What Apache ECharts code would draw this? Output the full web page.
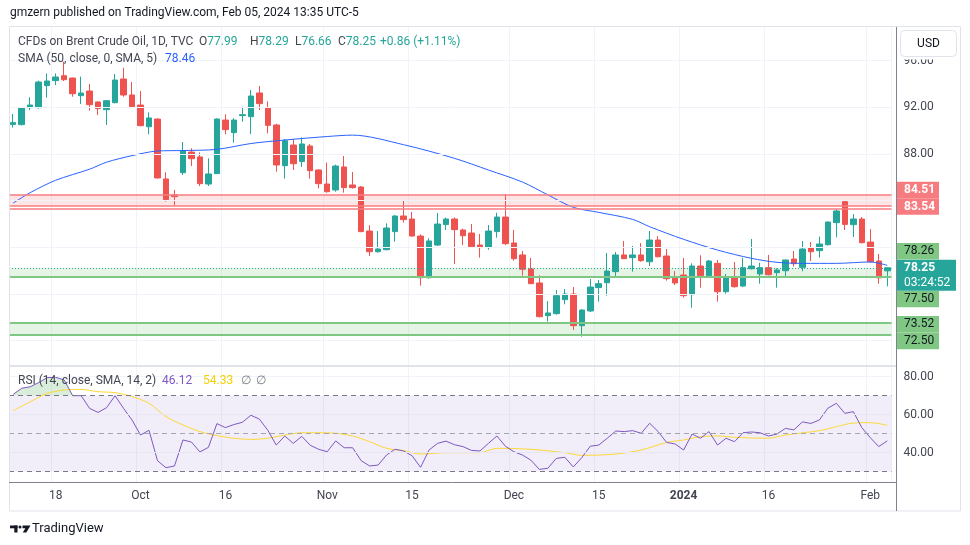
<!DOCTYPE html>
<html><head><meta charset="utf-8">
<script src="https://cdn.jsdelivr.net/npm/echarts@6/dist/echarts.min.js"></script>
<style>html,body{margin:0;padding:0;background:#fff;}#c{width:970px;height:545px;}</style>
</head><body><div id="c"></div>
<script>
// ---------------- DATA ----------------
const dates = ['2023-09-11','2023-09-12','2023-09-13','2023-09-14','2023-09-15','2023-09-18','2023-09-19','2023-09-20','2023-09-21','2023-09-22','2023-09-25','2023-09-26','2023-09-27','2023-09-28','2023-09-29','2023-10-02','2023-10-03','2023-10-04','2023-10-05','2023-10-06','2023-10-09','2023-10-10','2023-10-11','2023-10-12','2023-10-13','2023-10-16','2023-10-17','2023-10-18','2023-10-19','2023-10-20','2023-10-23','2023-10-24','2023-10-25','2023-10-26','2023-10-27','2023-10-30','2023-10-31','2023-11-01','2023-11-02','2023-11-03','2023-11-06','2023-11-07','2023-11-08','2023-11-09','2023-11-10','2023-11-13','2023-11-14','2023-11-15','2023-11-16','2023-11-17','2023-11-20','2023-11-21','2023-11-22','2023-11-23','2023-11-24','2023-11-27','2023-11-28','2023-11-29','2023-11-30','2023-12-01','2023-12-04','2023-12-05','2023-12-06','2023-12-07','2023-12-08','2023-12-11','2023-12-12','2023-12-13','2023-12-14','2023-12-15','2023-12-18','2023-12-19','2023-12-20','2023-12-21','2023-12-22','2023-12-26','2023-12-27','2023-12-28','2023-12-29','2024-01-02','2024-01-03','2024-01-04','2024-01-05','2024-01-08','2024-01-09','2024-01-10','2024-01-11','2024-01-12','2024-01-15','2024-01-16','2024-01-17','2024-01-18','2024-01-19','2024-01-22','2024-01-23','2024-01-24','2024-01-25','2024-01-26','2024-01-29','2024-01-30','2024-01-31','2024-02-01','2024-02-02','2024-02-05'];

const tickLabels = {'2023-09-18':'18','2023-10-02':'Oct','2023-10-16':'16','2023-11-01':'Nov','2023-11-15':'15','2023-12-01':'Dec','2023-12-15':'15','2024-01-02':'2024','2024-01-16':'16','2024-02-01':'Feb'};

const opens = [90.54,90.52,91.97,91.97,93.86,94.29,94.71,94.51,93.00,93.40,92.46,91.80,92.40,94.43,93.06,92.20,90.34,91.0,85.86,84.49,86.40,88.17,87.75,85.43,86.32,90.91,89.83,91.29,91.20,93.23,91.94,90.49,87.0,88.77,87.35,88.69,86.63,85.43,84.92,86.89,85.35,85.17,81.40,79.63,79.80,81.35,82.69,82.43,80.97,77.40,80.20,81.95,82.43,81.49,81.23,80.20,79.98,81.35,82.60,80.38,79.35,78.15,76.95,74.15,74.32,75.52,76.0,73.29,74.55,76.55,76.97,77.92,79.35,79.12,79.35,78.77,80.63,79.26,77.38,77.63,75.95,78.40,77.57,78.63,76.20,77.46,76.69,78.17,77.72,78.26,77.83,78.0,79.0,78.29,79.95,79.72,80.23,82.12,83.92,81.95,82.43,80.46,78.83,77.99];
const closes = [90.69,91.94,92.20,94.17,94.26,94.60,94.37,93.17,93.23,92.23,91.89,92.57,94.34,93.06,92.06,90.43,91.09,85.95,84.09,84.35,88.26,87.60,85.46,86.29,91.0,90.09,90.91,91.37,92.97,92.32,90.46,87.06,89.14,87.17,88.86,86.57,85.46,84.77,86.97,85.12,85.12,81.35,79.63,79.86,81.66,82.69,82.38,80.97,77.40,80.55,82.0,82.43,81.52,81.0,80.06,79.98,81.40,82.60,80.32,79.03,78.12,76.89,74.06,74.38,75.86,76.0,73.29,74.63,76.60,76.89,77.97,79.35,79.03,79.35,78.86,80.63,79.20,77.32,76.95,75.86,78.40,77.57,78.83,76.20,77.49,76.63,78.26,78.40,78.26,77.66,78.06,78.92,78.60,79.86,79.63,80.29,82.17,83.12,81.97,82.43,80.40,78.77,77.39,78.25];
const lows = [90.26,90.45,91.77,91.9,92.83,93.91,94.26,92.91,92.29,91.72,91.34,90.49,92.35,92.91,92.0,90.38,89.69,85.9,83.92,83.58,86.20,86.97,85.26,85.26,86.3,89.69,88.97,90.77,89.72,91.77,89.77,86.49,85.89,86.63,86.89,85.89,85.06,84.69,84.77,84.69,85.03,81.3,79.26,79.55,79.75,80.49,82.12,80.92,76.72,77.32,80.12,81.49,78.58,80.20,80.0,79.12,79.80,80.83,80.20,78.86,77.58,76.85,74.0,73.64,74.23,75.12,72.92,72.35,74.46,75.35,75.86,77.49,79.0,77.92,78.77,78.40,79.15,77.15,76.77,75.69,74.83,76.55,77.5,75.35,76.03,76.55,76.6,78.1,76.89,77.6,76.55,77.40,78.35,77.95,78.83,79.12,80.15,80.86,81.49,80.89,80.35,78.69,76.89,76.66];
const highs = [91.43,92.0,92.86,94.29,94.91,94.91,95.91,94.55,94.63,94.0,92.5,92.6,94.86,95.40,94.17,93.40,91.57,91.05,86.43,84.92,89.03,88.49,88.14,87.63,91.05,91.40,91.06,92.06,93.49,93.83,92.51,90.58,89.29,89.29,89.43,88.86,86.7,87.26,87.09,87.83,86.46,85.26,81.89,81.40,82.06,82.77,83.97,83.03,81.12,80.78,82.95,82.55,82.57,81.6,82.0,81.15,81.92,82.97,84.57,81.49,79.69,79.09,77.60,75.40,76.35,76.43,76.60,74.7,77.29,77.20,79.52,79.60,80.55,80.12,80.37,81.40,80.97,79.86,77.97,79.09,78.63,79.32,78.92,78.92,77.72,78.74,79.09,80.72,78.69,79.35,78.20,78.95,79.69,80.55,80.46,80.92,82.23,83.26,84.06,82.86,82.60,81.57,79.43,78.29];

const smaDates = ['2023-09-11','2023-09-13','2023-09-18','2023-09-22','2023-09-26','2023-09-29','2023-10-04','2023-10-09','2023-10-13','2023-10-19','2023-10-25','2023-11-01','2023-11-06','2023-11-14','2023-11-22','2023-11-28','2023-12-04','2023-12-07','2023-12-12','2023-12-15','2023-12-21','2023-12-26','2024-01-02','2024-01-08','2024-01-12','2024-01-17','2024-01-22','2024-01-26','2024-02-01','2024-02-05'];
const smaValues = [83.8,84.69,85.75,86.7,87.3,87.86,88.26,88.3,88.4,88.9,89.2,89.5,89.62,88.8,87.63,86.63,85.6,84.5,83.43,83.0,82.4,81.77,80.69,79.77,79.06,78.72,78.63,78.63,78.75,78.46];

const rsiValues = [70.6,73.8,74.6,76.8,79.4,79.6,78.2,69.9,69.9,63.2,61.1,63.6,69.9,63.2,57.1,49.2,51.7,35.7,32.0,32.9,46.6,45.5,40.3,42.7,55.2,53.1,54.7,55.9,59.6,57.6,51.7,43.9,48.7,44.8,48.5,43.8,41.7,40.4,46.1,42.5,42.5,35.7,32.9,33.4,38.7,41.7,40.8,38.3,32.2,41.3,44.8,46.0,44.1,43.1,41.1,40.8,44.8,48.7,43.3,40.4,38.7,36.0,31.1,31.7,36.9,37.5,32.4,37.3,43.3,43.9,47.5,51.3,51.0,51.5,50.1,55.4,51.0,45.3,44.5,41.3,49.7,47.5,51.0,43.9,47.5,45.7,50.4,50.8,50.4,48.7,49.7,52.7,51.9,56.1,55.3,57.1,63.3,65.9,60.6,61.5,53.1,47.8,43.1,46.12];

const rsiMaDates = ['2023-09-11','2023-09-13','2023-09-15','2023-09-19','2023-09-21','2023-09-25','2023-09-27','2023-09-29','2023-10-03','2023-10-05','2023-10-09','2023-10-11','2023-10-13','2023-10-17','2023-10-19','2023-10-23','2023-10-25','2023-10-27','2023-10-31','2023-11-02','2023-11-06','2023-11-08','2023-11-10','2023-11-14','2023-11-16','2023-11-21','2023-11-27','2023-11-29','2023-12-05','2023-12-11','2023-12-13','2023-12-19','2023-12-22','2023-12-28','2024-01-02','2024-01-04','2024-01-08','2024-01-10','2024-01-16','2024-01-18','2024-01-24','2024-01-26','2024-01-30','2024-02-01','2024-02-05'];
const rsiMaValues = [62.0,66.7,71.1,72.9,73.2,72.0,71.5,69.4,65.9,58.9,54.5,51.0,48.9,47.5,46.9,47.5,49.2,50.4,50.4,50.1,48.7,45.7,42.2,41.0,39.2,39.9,39.9,42.2,41.7,39.9,38.5,39.2,41.3,45.3,46.6,48.3,48.7,48.0,47.5,49.2,51.5,53.6,55.5,55.7,54.33];

const priceTicksShown = [96, 92, 88];
const rsiTicksShown = [80, 60, 40];
const priceGridLevels = [72, 76, 80, 84, 88, 92, 96];
const redZone = [84.51, 83.54];
const redExtraLine = 83.35;
const greenZoneA = [78.26, 77.50];
const greenZoneB = [73.52, 72.50];
const lastPrice = 78.25;
const countdown = '03:24:52';

// ---------------- CHART ----------------
const chart = echarts.init(document.getElementById('c'));
const PL = 9, PW = 882.5;
const UP = '#26a69a', DN = '#ef5350';
const FONT = "Roboto, sans-serif";
const TXT = '#434651';
const isTick = (i) => tickLabels[dates[i]] !== undefined;
const ohlc = dates.map((d, i) => [opens[i], closes[i], lows[i], highs[i]]);
const smaData = smaDates.map((d, i) => [d, smaValues[i]]);
const rsiMaData = rsiMaDates.map((d, i) => [d, rsiMaValues[i]]);
const rsiOver = rsiValues.map(v => v > 69 ? Math.max(v, 70) : null);

const hLine = (v, color, width, type) => ({yAxis: v, lineStyle: {color: color, width: width, type: type}});

const option = {
  animation: false,
  backgroundColor: '#ffffff',
  textStyle: {fontFamily: FONT},
  grid: [
    {left: PL, width: PW, top: 27, height: 456},
    {left: PL, width: PW, top: 14, height: 373.4},
    {left: PL, width: PW, top: 338.5, height: 152}
  ],
  xAxis: [
    {type: 'category', gridIndex: 0, data: dates, boundaryGap: true,
     axisLine: {show: false}, axisTick: {show: false},
     axisLabel: {interval: (i) => isTick(i), margin: 7, color: TXT, fontSize: 12, fontFamily: FONT,
       formatter: (v) => { const t = tickLabels[v] || ''; return t === '2024' ? '{b|2024}' : t; },
       rich: {b: {fontWeight: 'bold', fontSize: 12, color: TXT, fontFamily: FONT}}},
     splitLine: {show: true, interval: (i) => isTick(i), lineStyle: {color: '#f0f3fa', width: 1}}},
    {type: 'category', gridIndex: 1, data: dates, show: false},
    {type: 'category', gridIndex: 2, data: dates, show: false}
  ],
  yAxis: [
    {type: 'value', gridIndex: 0, show: false, min: 0, max: 1},
    {type: 'value', gridIndex: 1, position: 'right', min: 68, max: 100, interval: 4,
     axisLine: {show: false}, axisTick: {show: false}, splitLine: {show: false},
     axisLabel: {margin: 12, align: 'left', color: TXT, fontSize: 12, fontFamily: FONT,
       formatter: (v) => priceTicksShown.includes(v) ? v.toFixed(2) : ''}},
    {type: 'value', gridIndex: 2, position: 'right', min: 20, max: 100, interval: 20,
     axisLine: {show: false}, axisTick: {show: false}, splitLine: {show: false},
     axisLabel: {margin: 12, align: 'left', color: TXT, fontSize: 12, fontFamily: FONT,
       formatter: (v) => rsiTicksShown.includes(v) ? v.toFixed(2) : ''}}
  ],
  series: [
    {type: 'line', xAxisIndex: 1, yAxisIndex: 1, data: [], silent: true, z: 0,
     markLine: {silent: true, symbol: ['none', 'none'], label: {show: false},
       data: priceGridLevels.map(v => hLine(v, '#f0f3fa', 1, 'solid'))}},
    {type: 'line', xAxisIndex: 1, yAxisIndex: 1, data: [], silent: true, z: 1,
     markArea: {silent: true, data: [
       [{yAxis: redZone[0], itemStyle: {color: 'rgba(247,124,128,0.2)'}}, {yAxis: redZone[1]}],
       [{yAxis: greenZoneA[0], itemStyle: {color: 'rgba(129,199,132,0.2)'}}, {yAxis: greenZoneA[1]}],
       [{yAxis: greenZoneB[0], itemStyle: {color: 'rgba(129,199,132,0.2)'}}, {yAxis: greenZoneB[1]}]
     ]},
     markLine: {silent: true, symbol: ['none', 'none'], label: {show: false}, data: [
       hLine(redZone[0], '#f77c80', 1.5, 'solid'),
       hLine(redZone[1], '#f77c80', 1.5, 'solid'),
       hLine(redExtraLine, '#f77c80', 1.5, 'solid'),
       hLine(greenZoneA[1], '#81c784', 2, 'solid'),
       hLine(greenZoneB[0], '#81c784', 2, 'solid'),
       hLine(greenZoneB[1], '#81c784', 2, 'solid')
     ]}},
    {type: 'candlestick', xAxisIndex: 1, yAxisIndex: 1, data: ohlc, barWidth: 6, z: 3,
     itemStyle: {color: UP, color0: DN, borderColor: UP, borderColor0: DN, borderWidth: 1},
     markLine: {silent: true, symbol: ['none', 'none'], label: {show: false},
       data: [hLine(lastPrice, UP, 1, [1, 2])]}},
    {type: 'line', xAxisIndex: 1, yAxisIndex: 1, data: smaData, showSymbol: false, smooth: 0.3, z: 4,
     lineStyle: {color: '#2962ff', width: 1}},
    {type: 'line', xAxisIndex: 2, yAxisIndex: 2, data: [], silent: true, z: 0,
     markArea: {silent: true, data: [[{yAxis: 70, itemStyle: {color: 'rgba(126,87,194,0.1)'}}, {yAxis: 30}]]},
     markLine: {silent: true, symbol: ['none', 'none'], label: {show: false}, data: [
       hLine(80, '#f0f3fa', 1, 'solid'), hLine(60, '#e9e6f3', 1, 'solid'), hLine(40, '#e9e6f3', 1, 'solid'),
       hLine(70, '#787b86', 1, [5, 4]), hLine(50, '#a5a7b0', 1, [5, 4]), hLine(30, '#787b86', 1, [5, 4])
     ]}},
    {type: 'line', xAxisIndex: 2, yAxisIndex: 2, data: rsiOver, showSymbol: false, silent: true, z: 1,
     lineStyle: {width: 0, opacity: 0}, areaStyle: {origin: 70, color: 'rgba(76,175,80,0.3)'}},
    {type: 'line', xAxisIndex: 2, yAxisIndex: 2, data: rsiMaData, showSymbol: false, smooth: 0.3, z: 2,
     lineStyle: {color: '#fdd835', width: 1}},
    {type: 'line', xAxisIndex: 2, yAxisIndex: 2, data: rsiValues, showSymbol: false, z: 3,
     lineStyle: {color: '#7e57c2', width: 1}}
  ]
};
chart.setOption(option);

// ---------------- DECORATION / LABELS ----------------
const py = (v) => chart.convertToPixel({yAxisIndex: 1}, v);
const T = (x, y, text, color, size, weight, align) => ({type: 'text', x: x, y: y, silent: true, z: 100,
  style: {text: text, fill: color, font: (weight || 'normal') + ' ' + (size || 12) + 'px ' + FONT, align: align || 'left', verticalAlign: 'middle'}});
const L = (x1, y1, x2, y2, color, w) => ({type: 'line', silent: true, z: 90, shape: {x1: x1, y1: y1, x2: x2, y2: y2}, style: {stroke: color, lineWidth: w || 1}});

const AX = 896.5, BX = 897, BW = 42;
const boxes = [
  {v: redZone[0], text: '84.51', bg: '#f77c80', fg: '#ffffff', dy: -4.7},
  {v: redZone[1], text: '83.54', bg: '#f77c80', fg: '#ffffff', dy: 0.5},
  {v: greenZoneA[0], text: '78.26', bg: '#81c784', fg: '#131722', dy: -16.5},
  {v: greenZoneA[1], text: '77.50', bg: '#81c784', fg: '#131722', dy: 22.5},
  {v: greenZoneB[0], text: '73.52', bg: '#81c784', fg: '#131722', dy: 1.2},
  {v: greenZoneB[1], text: '72.50', bg: '#81c784', fg: '#131722', dy: 6}
];
const g = [];
g.push({type: 'rect', silent: true, z: 80, shape: {x: 9.5, y: 26.5, width: 951, height: 484.5}, style: {fill: 'none', stroke: '#e0e3eb', lineWidth: 1}});
g.push(L(9, 366, AX, 366, '#e0e3eb', 2));
g.push(L(9, 482.5, AX, 482.5, '#80838d', 1));
g.push(L(AX, 27, AX, 511, '#80838d', 1));
boxes.forEach(b => {
  const cy = py(b.v) + b.dy;
  g.push({type: 'rect', silent: true, z: 95, shape: {x: BX, y: cy - 8.3, width: BW, height: 16.6}, style: {fill: b.bg}});
  g.push(T(904, cy, b.text, b.fg, 12, b.fg === '#ffffff' ? 'bold' : 'normal'));
});
const lp = py(lastPrice);
g.push({type: 'rect', silent: true, z: 96, shape: {x: BX, y: lp - 8, width: 59, height: 31}, style: {fill: UP}});
g.push(T(904, lp + 0.5, lastPrice.toFixed(2), '#ffffff', 12, 'bold'));
g.push(T(904, lp + 15.5, countdown, '#ffffff', 12, 'normal'));
g.push({type: 'rect', silent: true, z: 96, shape: {x: 897.5, y: 27.5, width: 62.5, height: 32}, style: {fill: '#ffffff'}});
g.push({type: 'rect', silent: true, z: 97, shape: {x: 900.5, y: 30.5, width: 56, height: 26, r: 4}, style: {fill: '#ffffff', stroke: '#e0e3eb', lineWidth: 1}});
g.push(T(928.5, 44, 'USD', '#131722', 12, 'normal', 'center'));
g.push(T(10, 13, 'gmzern published on TradingView.com, Feb 05, 2024 13:35 UTC-5', '#131722', 12));
g.push(T(18, 42, 'CFDs on Brent Crude Oil, 1D, TVC', TXT, 12));
[['O', '77.99', 199], ['H', '78.29', 250], ['L', '76.66', 295], ['C', '78.25', 338]].forEach(p => {
  g.push({type: 'text', x: p[2], y: 42, silent: true, z: 100, style: {text: '{a|' + p[0] + '}{b|' + p[1] + '}', font: '12px ' + FONT, verticalAlign: 'middle',
    rich: {a: {fill: TXT, fontSize: 12, fontFamily: FONT}, b: {fill: UP, fontSize: 12, fontFamily: FONT}}}});
});
g.push(T(380, 42, '+0.86 (+1.11%)', UP, 12));
g.push(T(18, 59, 'SMA (50, close, 0, SMA, 5)', TXT, 12));
g.push(T(165, 59, smaValues[smaValues.length - 1].toFixed(2), '#2962ff', 12));
g.push(T(18, 381, 'RSI (14, close, SMA, 14, 2)', TXT, 12));
g.push(T(162, 381, rsiValues[rsiValues.length - 1].toFixed(2), '#7e57c2', 12));
g.push(T(203, 381, rsiMaValues[rsiMaValues.length - 1].toFixed(2), '#f5d000', 12));
g.push(T(241, 381, '∅', '#787b86', 12));
g.push(T(256, 381, '∅', '#787b86', 12));
g.push({type: 'rect', silent: true, z: 100, shape: {x: 10, y: 525.5, width: 7.5, height: 2.8}, style: {fill: '#131722'}});
g.push({type: 'rect', silent: true, z: 100, shape: {x: 14.3, y: 525.5, width: 3.2, height: 7}, style: {fill: '#131722'}});
g.push({type: 'circle', silent: true, z: 100, shape: {cx: 20, cy: 527, r: 1.5}, style: {fill: '#131722'}});
g.push({type: 'polygon', silent: true, z: 100, shape: {points: [[22.5, 525.5], [30.5, 525.5], [26.3, 532.5], [22.8, 532.5], [25.4, 528.2], [22.5, 528.2]]}, style: {fill: '#131722'}});
g.push(T(32, 528.5, 'TradingView', '#131722', 13));
chart.setOption({graphic: g});
</script>
</body></html>
